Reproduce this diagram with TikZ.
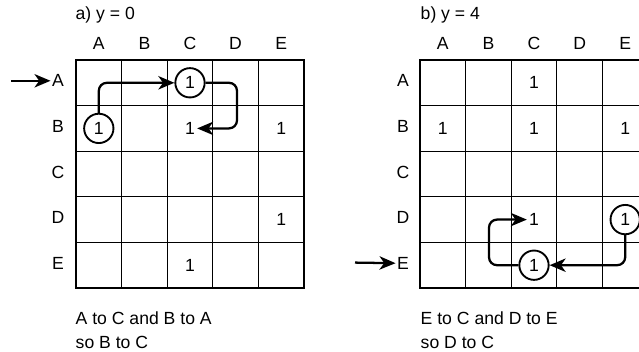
\documentclass[tikz,border=0pt]{standalone}
\usepackage{fontspec}
\setmainfont{Liberation Sans}
\usetikzlibrary{arrows.meta}
\begin{document}
\begin{tikzpicture}[x=0.75pt,y=-0.75pt,
  font=\fontsize{13.2}{15}\selectfont,
  cellline/.style={line width=0.9pt},
  border/.style={line width=2.1pt},
  circ/.style={circle,draw,line width=1.4pt,minimum size=22pt,inner sep=0pt},
  num/.style={inner sep=1.5pt},
  lbl/.style={inner sep=1pt},
  flow/.style={line width=1.7pt,rounded corners=6pt,-{Stealth[length=12pt,width=10pt,inset=3.5pt]}},
  inflow/.style={line width=1.7pt,-{Stealth[length=12pt,width=10pt,inset=3.5pt]}}]
\useasboundingbox (0,0) rectangle (639,352);
\clip (0,0) rectangle (639,352);
% ---------- left grid ----------
\foreach \i in {1,...,4} {
  \draw[cellline] (76+\i*45.6,60) -- (76+\i*45.6,288);
  \draw[cellline] (76,60+\i*45.6) -- (304,60+\i*45.6);
}
\draw[border] (76,60) rectangle (304,288);
% ---------- right grid ----------
\foreach \i in {1,...,4} {
  \draw[cellline] (420+\i*45.6,60) -- (420+\i*45.6,288);
  \draw[cellline] (420,60+\i*45.6) -- (648,60+\i*45.6);
}
\draw[border] (420,60) rectangle (648,288);
% ---------- labels ----------
\node[anchor=west] (ta) at (71,15) {a) y = 0};
\node[anchor=west] (tb) at (416,15) {b) y = 4};
\foreach \c [count=\k from 0] in {A,B,C,D,E} {
  \node[lbl] (lcol\c) at (98.8+\k*45.6,43) {\c};
  \node[lbl] (rcol\c) at (442.8+\k*45.6,43) {\c};
  \node[lbl] (lrow\c) at (58,80.8+\k*45.6) {\c};
  \node[lbl] (rrow\c) at (403,80.8+\k*45.6) {\c};
}
% ---------- left contents ----------
\node[circ] (lAC) at (190,82.8) {1};
\node[circ] (lBA) at (98.8,128.4) {1};
\node[num] (lBC) at (190,128.4) {1};
\node[num] (lBE) at (281.2,128.4) {1};
\node[num] (lDE) at (281.2,219.6) {1};
\node[num] (lEC) at (190,265.2) {1};
\coordinate (lin) at (11,80.8);
\draw[inflow] (lin) -- (lrowA.west);
\draw[flow] (lBA.north) |- (lAC.west);
\coordinate (lturn) at (237,82.8);
\draw[flow] (lAC.east) -- (lturn) |- (lBC.east);
% ---------- right contents ----------
\node[num] (rAC) at (534,82.8) {1};
\node[num] (rBA) at (442.8,128.4) {1};
\node[num] (rBC) at (534,128.4) {1};
\node[num] (rBE) at (625.2,128.4) {1};
\node[num] (rDC) at (534,219.6) {1};
\node[circ] (rDE) at (625.2,219.6) {1};
\node[circ] (rEC) at (534,265.2) {1};
\coordinate (rin) at (355,262.6);
\draw[inflow] (rin) -- (rrowE.west);
\draw[flow] (rDE.south) |- (rEC.east);
\coordinate (rturn) at (489,265.2);
\draw[flow] (rEC.west) -- (rturn) |- (rDC.west);
% ---------- captions ----------
\node[anchor=west] (ca1) at (71,318) {A to C and B to A};
\node[anchor=west] (ca2) at (71,342) {so B to C};
\node[anchor=west] (cb1) at (416,318) {E to C and D to E};
\node[anchor=west] (cb2) at (416,342) {so D to C};
\end{tikzpicture}
\end{document}
